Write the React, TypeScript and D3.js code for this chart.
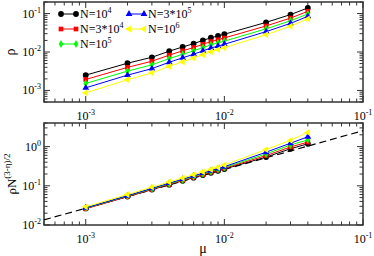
import React from "react";
import * as d3 from "d3";

// mu values shared by every series
const mu = [0.001, 0.002, 0.003, 0.004, 0.005, 0.006, 0.007, 0.008, 0.009, 0.01, 0.02, 0.03, 0.04];

// top panel: rho
const rhoN1e4 = [0.0025, 0.0051, 0.0073, 0.0105, 0.0135, 0.0165, 0.02, 0.0235, 0.0262, 0.029, 0.059, 0.094, 0.14];
const rhoN3e4 = [0.00193, 0.00398, 0.00574, 0.00828, 0.0107, 0.0131, 0.0159, 0.0187, 0.0209, 0.0232, 0.0477, 0.0764, 0.1144];
const rhoN1e5 = [0.00152, 0.00318, 0.00463, 0.00673, 0.00872, 0.0107, 0.0131, 0.0154, 0.0173, 0.0192, 0.0401, 0.065, 0.0977];
const rhoN3e5 = [0.00117, 0.0025, 0.00369, 0.00541, 0.00706, 0.00875, 0.0107, 0.0127, 0.0143, 0.0159, 0.0339, 0.0556, 0.0846];
const rhoN1e6 = [0.000865, 0.0019, 0.00285, 0.00423, 0.00556, 0.00695, 0.00856, 0.0102, 0.0115, 0.0129, 0.0283, 0.0471, 0.0725];

// bottom panel: rho * N^((3-eta)/2)
const scN1e4 = [0.0265, 0.053, 0.08, 0.107, 0.134, 0.161, 0.188, 0.215, 0.242, 0.268, 0.54, 0.88, 1.18];
const scN3e4 = [0.026, 0.053, 0.081, 0.109, 0.137, 0.165, 0.193, 0.222, 0.25, 0.278, 0.59, 0.98, 1.3];
const scN1e5 = [0.027, 0.055, 0.084, 0.113, 0.142, 0.172, 0.202, 0.232, 0.262, 0.292, 0.65, 1.1, 1.48];
const scN3e5 = [0.0275, 0.056, 0.086, 0.117, 0.148, 0.179, 0.211, 0.243, 0.275, 0.307, 0.72, 1.22, 1.78];
const scN1e6 = [0.029, 0.06, 0.092, 0.125, 0.158, 0.192, 0.227, 0.262, 0.297, 0.34, 0.84, 1.45, 2.3];

// dashed reference line (end points)
const refMu = [0.0005, 0.1];
const refVal = [0.0135, 2.55];

const legendPre = ["N=10", "N=3*10", "N=10", "N=3*10", "N=10"];
const legendExp = ["4", "4", "5", "5", "6"];
const colors = ["#000000", "#ff0000", "#00ff00", "#0000ff", "#ffff00"];

const xTicks = [0.001, 0.01, 0.1];
const xTickExp = ["-3", "-2", "-1"];
const topTicks = [0.001, 0.01, 0.1];
const topTickExp = ["-3", "-2", "-1"];
const botTicks = [0.01, 0.1, 1];
const botTickExp = ["-2", "-1", "0"];

const FONT = "Liberation Serif, Times New Roman, serif";

const symbols = [d3.symbolCircle, d3.symbolSquare, d3.symbolDiamond, d3.symbolTriangle, d3.symbolTriangle];
const symSize = [26, 22, 18, 20, 20];
const symRot = [0, 0, 0, 0, -90];

function minorTicks(domain: number[]) {
  const out: number[] = [];
  for (let e = -5; e <= 2; e++) {
    for (let k = 1; k <= 9; k++) {
      const v = k * Math.pow(10, e);
      if (v >= domain[0] * 0.999 && v <= domain[1] * 1.001) out.push(v);
    }
  }
  return out;
}

function Pow({ x, y, exp, anchor }: any) {
  return (
    <text x={x} y={y} textAnchor={anchor} fontFamily={FONT} fontSize={12} fill="#000">
      10<tspan dy={-5} fontSize={8}>{exp}</tspan>
    </text>
  );
}

function Marker({ cx, cy, i }: any) {
  const p = d3.symbol().type(symbols[i]).size(symSize[i])();
  return <path d={p || ""} transform={`translate(${cx},${cy}) rotate(${symRot[i]})`} fill={colors[i]} />;
}

function Panel({ top, bottom, yDomain, yTicks, yExp, series, xLabelY, dashed }: any) {
  const left = 44, right = 363;
  const x = d3.scaleLog().domain([0.0005, 0.1]).range([left, right]);
  const y = d3.scaleLog().domain(yDomain).range([bottom, top]);
  const line = d3.line<[number, number]>().x((d) => x(d[0])).y((d) => y(d[1]));
  const xMinor = minorTicks([0.0005, 0.1]);
  const yMinor = minorTicks(yDomain);
  const isMajor = (v: number) => Math.abs(Math.log10(v) - Math.round(Math.log10(v))) < 1e-6;
  return (
    <g>
      {/* ticks on all four sides */}
      {xMinor.map((v, i) => {
        const L = isMajor(v) ? 6 : 3.5;
        return (
          <g key={"xm" + i} stroke="#333" strokeWidth={1}>
            <line x1={x(v)} x2={x(v)} y1={bottom} y2={bottom - L} />
            <line x1={x(v)} x2={x(v)} y1={top} y2={top + L} />
          </g>
        );
      })}
      {yMinor.map((v, i) => {
        const L = isMajor(v) ? 6 : 3.5;
        return (
          <g key={"ym" + i} stroke="#333" strokeWidth={1}>
            <line x1={left} x2={left + L} y1={y(v)} y2={y(v)} />
            <line x1={right} x2={right - L} y1={y(v)} y2={y(v)} />
          </g>
        );
      })}
      <rect x={left} y={top} width={right - left} height={bottom - top} fill="none" stroke="#333" strokeWidth={1.5} />
      {xTicks.map((v, i) => (
        <Pow key={"xl" + i} x={x(v)} y={xLabelY} exp={xTickExp[i]} anchor="middle" />
      ))}
      {yTicks.map((v: number, i: number) => (
        <Pow key={"yl" + i} x={41} y={y(v) + 4} exp={yExp[i]} anchor="end" />
      ))}
      {dashed && (
        <path
          d={line(refMu.map((m, i) => [m, refVal[i]]) as any) || ""}
          fill="none"
          stroke="#000"
          strokeWidth={1.2}
          strokeDasharray="7,4"
        />
      )}
      {series.map((s: number[], si: number) => (
        <g key={"s" + si}>
          <path d={line(mu.map((m, j) => [m, s[j]]) as any) || ""} fill="none" stroke={colors[si]} strokeWidth={1} />
          {mu.map((m, j) => (
            <Marker key={j} cx={x(m)} cy={y(s[j])} i={si} />
          ))}
        </g>
      ))}
    </g>
  );
}

function Legend() {
  const pos = [
    [61, 14],
    [61, 29],
    [61, 44],
    [129, 14],
    [129, 29],
  ];
  return (
    <g>
      {legendPre.map((t, i) => {
        const [lx, ly] = pos[i];
        return (
          <g key={i}>
            <line x1={lx} x2={lx + 15} y1={ly} y2={ly} stroke={colors[i]} strokeWidth={1} />
            <Marker cx={lx} cy={ly} i={i} />
            <Marker cx={lx + 15} cy={ly} i={i} />
            <text x={lx + 19} y={ly + 4} fontFamily={FONT} fontSize={12} fill="#000">
              {t}
              <tspan dy={-5} fontSize={8}>{legendExp[i]}</tspan>
            </text>
          </g>
        );
      })}
    </g>
  );
}

export default function App() {
  return (
    <svg width={374} height={256} style={{ position: "absolute", left: 0, top: 0, background: "#fff" }}>
      <Panel
        top={2}
        bottom={102}
        yDomain={[0.0005, 0.2]}
        yTicks={topTicks}
        yExp={topTickExp}
        series={[rhoN1e4, rhoN3e4, rhoN1e5, rhoN3e5, rhoN1e6]}
        xLabelY={120}
        dashed={false}
      />
      <Panel
        top={123}
        bottom={225}
        yDomain={[0.01, 4]}
        yTicks={botTicks}
        yExp={botTickExp}
        series={[scN1e4, scN3e4, scN1e5, scN3e5, scN1e6]}
        xLabelY={243}
        dashed={true}
      />
      <Legend />
      <text transform="translate(15,52) rotate(-90)" textAnchor="middle" fontFamily={FONT} fontSize={14}>
        ρ
      </text>
      <text transform="translate(16,174) rotate(-90)" textAnchor="middle" fontFamily={FONT} fontSize={13}>
        ρN<tspan dy={-6} fontSize={9}>(3-η)/2</tspan>
      </text>
      <text x={203} y={253} textAnchor="middle" fontFamily={FONT} fontSize={14}>
        μ
      </text>
    </svg>
  );
}
